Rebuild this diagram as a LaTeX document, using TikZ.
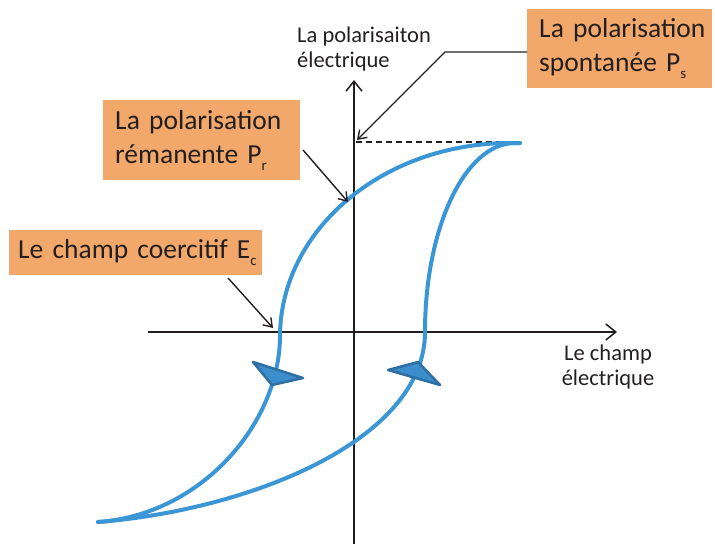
\documentclass[tikz,border=0pt]{standalone}
\usepackage{fontspec}
\setmainfont{Carlito}
\usetikzlibrary{arrows.meta}
\definecolor{boxor}{RGB}{242,168,106}
\definecolor{curveblue}{RGB}{58,150,212}
\definecolor{tipfill}{RGB}{60,141,203}
\definecolor{tipline}{RGB}{46,111,163}
\definecolor{ink}{RGB}{35,31,32}
\newcommand{\lowsub}[1]{\raisebox{-0.55ex}{\fontsize{15}{15}\selectfont #1}}
\begin{document}
\begin{tikzpicture}[x=1pt,y=-1pt,
  box/.style={fill=boxor,draw=none,anchor=north west,inner xsep=12pt,inner ysep=0pt,align=left,text=ink,font=\fontsize{27.5}{34}\selectfont},
  axlabel/.style={text=ink,font=\fontsize{22.5}{25}\selectfont,inner sep=0pt},
  axis/.style={draw=ink,line width=1.5pt,-{Straight Barb[length=10pt,width=16pt,line width=1.5pt]}},
  callout/.style={draw=ink,line width=1.4pt,-{Straight Barb[length=8pt,width=11pt,line width=1.4pt]}},
  loop/.style={draw=curveblue,line width=4pt,line cap=round},
  tri/.style={fill=tipfill,draw=tipline,line width=2.5pt,line join=round}
]
\useasboundingbox (0,0) rectangle (715,544);

% axes
\coordinate (xs) at (148,332);
\coordinate (xe) at (617,332);
\coordinate (ys) at (354,544);
\coordinate (ye) at (354,80);
\draw[axis] (xs) -- (xe);
\draw[axis] (ys) -- (ye);

% dashed saturation line
\coordinate (ds) at (356,142);
\coordinate (de) at (512,142);
\draw[draw=ink,line width=1.5pt,dash pattern=on 6pt off 4pt] (ds) -- (de);

% hysteresis loop
\coordinate (top) at (520,143);
\coordinate (tl) at (510,143);
\coordinate (tr) at (515,143);
\coordinate (ecl) at (280,337);
\coordinate (ecr) at (425,332);
\coordinate (bot) at (98,522);
\draw[loop] (top) -- (tl) .. controls (383,143) and (280,230) .. (ecl)
  .. controls (279,425) and (200,515) .. (bot);
\draw[loop] (bot) .. controls (250,510) and (425,440) .. (ecr)
  .. controls (425,228) and (465,143) .. (tr) -- (top);

% direction markers
\path[tri] (253,362) -- (303,378) -- (272,385) -- cycle;
\path[tri] (388,370) -- (418,362) -- (440,385) -- cycle;

% axis labels
\node[axlabel,align=left,anchor=north west] (ylab) at (297,27) {La polarisaiton\\électrique};
\node[axlabel,align=center,anchor=north] (xlab) at (608,345) {Le champ\\électrique};

% boxes
\node[box,minimum width=185pt,minimum height=79pt,text width=161pt] (ps) at (527,9)
  {\mbox{La polarisation}\\\mbox{spontanée P\lowsub{s}}};
\node[box,minimum width=197pt,minimum height=80pt,text width=173pt] (pr) at (103,100)
  {\mbox{La polarisation}\\\mbox{rémanente P\lowsub{r}}};
\node[box,minimum width=253pt,minimum height=45pt,text width=235pt,inner xsep=9pt] (ec) at (9,230)
  {\mbox{Le champ coercitif E\lowsub{c}}};

% callouts
\coordinate (psb) at (445,52);
\coordinate (pst) at (357,140);
\draw[callout] (ps.west |- psb) -- (psb) -- (pst);
\coordinate (prs) at (303,150);
\coordinate (prt) at (348,202);
\draw[callout] (prs) -- (prt);
\coordinate (ecs) at (228,278);
\coordinate (ect) at (273,328);
\draw[callout] (ecs) -- (ect);
\end{tikzpicture}
\end{document}
